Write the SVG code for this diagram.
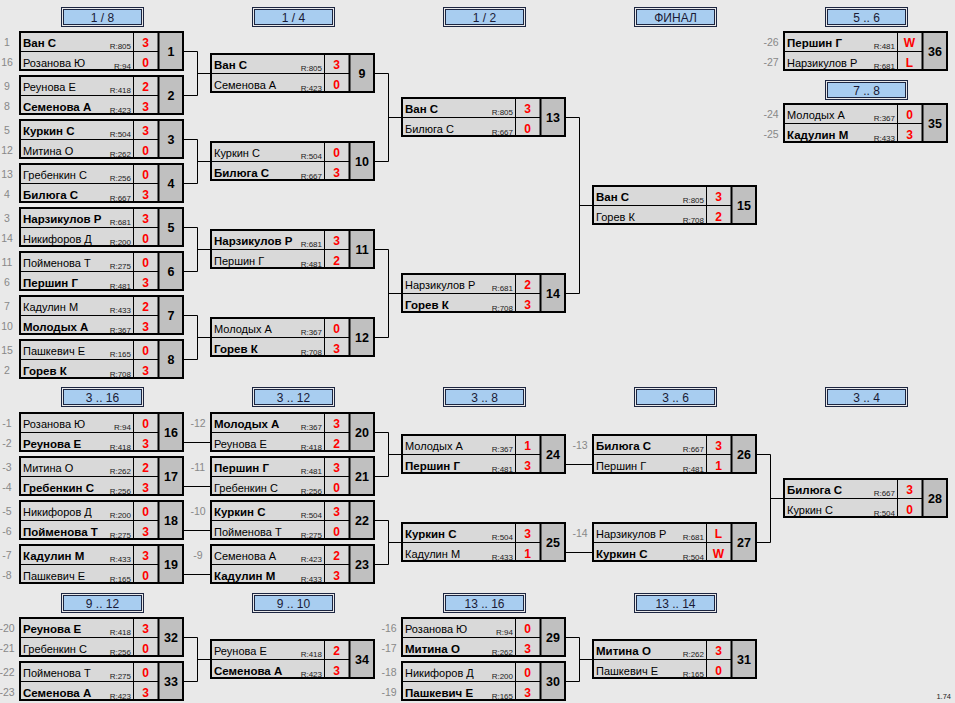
<svg xmlns="http://www.w3.org/2000/svg" xmlns:xlink="http://www.w3.org/1999/xlink" width="955" height="703" viewBox="0 0 955 703">
<style>
text{font-family:"Liberation Sans",Arial,sans-serif;fill:#000}
.n{font-size:11px}
.b{font-size:11.5px;font-weight:bold}
.r{font-size:8px;text-anchor:end;fill:#222}
.s{font-size:12px;font-weight:bold;fill:#f00;text-anchor:middle}
.m{font-size:12.5px;font-weight:bold;text-anchor:middle}
.sd{font-size:10.5px;fill:#888;text-anchor:middle}
.h{font-size:12px;text-anchor:middle;fill:#1a1a35}
.ln{fill:none;stroke:#000;stroke-width:1}
</style>
<defs>
<g id="f">
<rect x="1" y="1" width="138" height="38" fill="#d9d9d9"/>
<rect x="139" y="1" width="25" height="38" fill="#c0c0c0"/>
<line x1="1" y1="20.5" x2="139" y2="20.5" stroke="#000" stroke-width="1"/>
<line x1="114.5" y1="1" x2="114.5" y2="39" stroke="#000" stroke-width="1"/>
<line x1="139.5" y1="1" x2="139.5" y2="39" stroke="#000" stroke-width="2"/>
<rect x="1" y="1" width="163" height="38" fill="none" stroke="#000" stroke-width="2"/>
</g>
<g id="hd">
<rect x="0.5" y="0.5" width="82" height="19" fill="#e8e8e8" stroke="#1c2540" stroke-width="1"/>
<rect x="2.5" y="2.5" width="78" height="15" fill="#a8cdf0" stroke="#1c2540" stroke-width="1"/>
</g>
</defs>
<rect width="955" height="703" fill="#e9e9e9"/>

<g id="headers">
<g transform="translate(61,7)"><use href="#hd"/><text class="h" x="41.5" y="14.5">1 / 8</text></g>
<g transform="translate(252,7)"><use href="#hd"/><text class="h" x="41.5" y="14.5">1 / 4</text></g>
<g transform="translate(443,7)"><use href="#hd"/><text class="h" x="41.5" y="14.5">1 / 2</text></g>
<g transform="translate(634,7)"><use href="#hd"/><text class="h" x="41.5" y="14.5">ФИНАЛ</text></g>
<g transform="translate(825,7)"><use href="#hd"/><text class="h" x="41.5" y="14.5">5 .. 6</text></g>
<g transform="translate(825,80)"><use href="#hd"/><text class="h" x="41.5" y="14.5">7 .. 8</text></g>
<g transform="translate(61,387)"><use href="#hd"/><text class="h" x="41.5" y="14.5">3 .. 16</text></g>
<g transform="translate(252,387)"><use href="#hd"/><text class="h" x="41.5" y="14.5">3 .. 12</text></g>
<g transform="translate(443,387)"><use href="#hd"/><text class="h" x="41.5" y="14.5">3 .. 8</text></g>
<g transform="translate(634,387)"><use href="#hd"/><text class="h" x="41.5" y="14.5">3 .. 6</text></g>
<g transform="translate(825,387)"><use href="#hd"/><text class="h" x="41.5" y="14.5">3 .. 4</text></g>
<g transform="translate(61,593)"><use href="#hd"/><text class="h" x="41.5" y="14.5">9 .. 12</text></g>
<g transform="translate(252,593)"><use href="#hd"/><text class="h" x="41.5" y="14.5">9 .. 10</text></g>
<g transform="translate(443,593)"><use href="#hd"/><text class="h" x="41.5" y="14.5">13 .. 16</text></g>
<g transform="translate(634,593)"><use href="#hd"/><text class="h" x="41.5" y="14.5">13 .. 14</text></g>
</g>

<g id="connectors" class="ln">
<path d="M184 51.5H197.5V95.5H184M197.5 73.5H210"/>
<path d="M184 139.5H197.5V183.5H184M197.5 161.5H210"/>
<path d="M184 227.5H197.5V271.5H184M197.5 249.5H210"/>
<path d="M184 315.5H197.5V359.5H184M197.5 337.5H210"/>
<path d="M375 73.5H388.5V161.5H375M388.5 117.5H401"/>
<path d="M375 249.5H388.5V337.5H375M388.5 293.5H401"/>
<path d="M566 117.5H579.5V293.5H566M579.5 205.5H592"/>
<path d="M184 442.5H210M184 486.5H210M184 530.5H210M184 574.5H210"/>
<path d="M375 432.5H388.5V476.5H375M388.5 454.5H401"/>
<path d="M375 520.5H388.5V564.5H375M388.5 542.5H401"/>
<path d="M566 464.5H592M566 552.5H592"/>
<path d="M757 454.5H770.5V542.5H757M770.5 498.5H783"/>
<path d="M184 637.5H197.5V681.5H184M197.5 659.5H210"/>
<path d="M566 637.5H579.5V681.5H566M579.5 659.5H592"/>
</g>

<g id="m1" transform="translate(19,31)"><use href="#f"/>
<text class="sd" x="-12" y="15">1</text><text class="sd" x="-12" y="35">16</text>
<text class="b" x="4" y="15.5">Ван С</text><text class="r" x="112" y="17.5">R:805</text><text class="s" x="126.5" y="15.5">3</text>
<text class="n" x="4" y="35.5">Розанова Ю</text><text class="r" x="112" y="37.5">R:94</text><text class="s" x="126.5" y="35.5">0</text>
<text class="m" x="152" y="25">1</text></g>

<g id="m2" transform="translate(19,75)"><use href="#f"/>
<text class="sd" x="-12" y="15">9</text><text class="sd" x="-12" y="35">8</text>
<text class="n" x="4" y="15.5">Реунова Е</text><text class="r" x="112" y="17.5">R:418</text><text class="s" x="126.5" y="15.5">2</text>
<text class="b" x="4" y="35.5">Семенова А</text><text class="r" x="112" y="37.5">R:423</text><text class="s" x="126.5" y="35.5">3</text>
<text class="m" x="152" y="25">2</text></g>

<g id="m3" transform="translate(19,119)"><use href="#f"/>
<text class="sd" x="-12" y="15">5</text><text class="sd" x="-12" y="35">12</text>
<text class="b" x="4" y="15.5">Куркин С</text><text class="r" x="112" y="17.5">R:504</text><text class="s" x="126.5" y="15.5">3</text>
<text class="n" x="4" y="35.5">Митина О</text><text class="r" x="112" y="37.5">R:262</text><text class="s" x="126.5" y="35.5">0</text>
<text class="m" x="152" y="25">3</text></g>

<g id="m4" transform="translate(19,163)"><use href="#f"/>
<text class="sd" x="-12" y="15">13</text><text class="sd" x="-12" y="35">4</text>
<text class="n" x="4" y="15.5">Гребенкин С</text><text class="r" x="112" y="17.5">R:256</text><text class="s" x="126.5" y="15.5">0</text>
<text class="b" x="4" y="35.5">Билюга С</text><text class="r" x="112" y="37.5">R:667</text><text class="s" x="126.5" y="35.5">3</text>
<text class="m" x="152" y="25">4</text></g>

<g id="m5" transform="translate(19,207)"><use href="#f"/>
<text class="sd" x="-12" y="15">3</text><text class="sd" x="-12" y="35">14</text>
<text class="b" x="4" y="15.5">Нарзикулов Р</text><text class="r" x="112" y="17.5">R:681</text><text class="s" x="126.5" y="15.5">3</text>
<text class="n" x="4" y="35.5">Никифоров Д</text><text class="r" x="112" y="37.5">R:200</text><text class="s" x="126.5" y="35.5">0</text>
<text class="m" x="152" y="25">5</text></g>

<g id="m6" transform="translate(19,251)"><use href="#f"/>
<text class="sd" x="-12" y="15">11</text><text class="sd" x="-12" y="35">6</text>
<text class="n" x="4" y="15.5">Пойменова Т</text><text class="r" x="112" y="17.5">R:275</text><text class="s" x="126.5" y="15.5">0</text>
<text class="b" x="4" y="35.5">Першин Г</text><text class="r" x="112" y="37.5">R:481</text><text class="s" x="126.5" y="35.5">3</text>
<text class="m" x="152" y="25">6</text></g>

<g id="m7" transform="translate(19,295)"><use href="#f"/>
<text class="sd" x="-12" y="15">7</text><text class="sd" x="-12" y="35">10</text>
<text class="n" x="4" y="15.5">Кадулин М</text><text class="r" x="112" y="17.5">R:433</text><text class="s" x="126.5" y="15.5">2</text>
<text class="b" x="4" y="35.5">Молодых А</text><text class="r" x="112" y="37.5">R:367</text><text class="s" x="126.5" y="35.5">3</text>
<text class="m" x="152" y="25">7</text></g>

<g id="m8" transform="translate(19,339)"><use href="#f"/>
<text class="sd" x="-12" y="15">15</text><text class="sd" x="-12" y="35">2</text>
<text class="n" x="4" y="15.5">Пашкевич Е</text><text class="r" x="112" y="17.5">R:165</text><text class="s" x="126.5" y="15.5">0</text>
<text class="b" x="4" y="35.5">Горев К</text><text class="r" x="112" y="37.5">R:708</text><text class="s" x="126.5" y="35.5">3</text>
<text class="m" x="152" y="25">8</text></g>

<g id="m9" transform="translate(210,53)"><use href="#f"/>
<text class="b" x="4" y="15.5">Ван С</text><text class="r" x="112" y="17.5">R:805</text><text class="s" x="126.5" y="15.5">3</text>
<text class="n" x="4" y="35.5">Семенова А</text><text class="r" x="112" y="37.5">R:423</text><text class="s" x="126.5" y="35.5">0</text>
<text class="m" x="152" y="25">9</text></g>

<g id="m10" transform="translate(210,141)"><use href="#f"/>
<text class="n" x="4" y="15.5">Куркин С</text><text class="r" x="112" y="17.5">R:504</text><text class="s" x="126.5" y="15.5">0</text>
<text class="b" x="4" y="35.5">Билюга С</text><text class="r" x="112" y="37.5">R:667</text><text class="s" x="126.5" y="35.5">3</text>
<text class="m" x="152" y="25">10</text></g>

<g id="m11" transform="translate(210,229)"><use href="#f"/>
<text class="b" x="4" y="15.5">Нарзикулов Р</text><text class="r" x="112" y="17.5">R:681</text><text class="s" x="126.5" y="15.5">3</text>
<text class="n" x="4" y="35.5">Першин Г</text><text class="r" x="112" y="37.5">R:481</text><text class="s" x="126.5" y="35.5">2</text>
<text class="m" x="152" y="25">11</text></g>

<g id="m12" transform="translate(210,317)"><use href="#f"/>
<text class="n" x="4" y="15.5">Молодых А</text><text class="r" x="112" y="17.5">R:367</text><text class="s" x="126.5" y="15.5">0</text>
<text class="b" x="4" y="35.5">Горев К</text><text class="r" x="112" y="37.5">R:708</text><text class="s" x="126.5" y="35.5">3</text>
<text class="m" x="152" y="25">12</text></g>

<g id="m13" transform="translate(401,97)"><use href="#f"/>
<text class="b" x="4" y="15.5">Ван С</text><text class="r" x="112" y="17.5">R:805</text><text class="s" x="126.5" y="15.5">3</text>
<text class="n" x="4" y="35.5">Билюга С</text><text class="r" x="112" y="37.5">R:667</text><text class="s" x="126.5" y="35.5">0</text>
<text class="m" x="152" y="25">13</text></g>

<g id="m14" transform="translate(401,273)"><use href="#f"/>
<text class="n" x="4" y="15.5">Нарзикулов Р</text><text class="r" x="112" y="17.5">R:681</text><text class="s" x="126.5" y="15.5">2</text>
<text class="b" x="4" y="35.5">Горев К</text><text class="r" x="112" y="37.5">R:708</text><text class="s" x="126.5" y="35.5">3</text>
<text class="m" x="152" y="25">14</text></g>

<g id="m15" transform="translate(592,185)"><use href="#f"/>
<text class="b" x="4" y="15.5">Ван С</text><text class="r" x="112" y="17.5">R:805</text><text class="s" x="126.5" y="15.5">3</text>
<text class="n" x="4" y="35.5">Горев К</text><text class="r" x="112" y="37.5">R:708</text><text class="s" x="126.5" y="35.5">2</text>
<text class="m" x="152" y="25">15</text></g>

<g id="m36" transform="translate(783,31)"><use href="#f"/>
<text class="sd" x="-12" y="15">-26</text><text class="sd" x="-12" y="35">-27</text>
<text class="b" x="4" y="15.5">Першин Г</text><text class="r" x="112" y="17.5">R:481</text><text class="s" x="126.5" y="15.5">W</text>
<text class="n" x="4" y="35.5">Нарзикулов Р</text><text class="r" x="112" y="37.5">R:681</text><text class="s" x="126.5" y="35.5">L</text>
<text class="m" x="152" y="25">36</text></g>

<g id="m35" transform="translate(783,103)"><use href="#f"/>
<text class="sd" x="-12" y="15">-24</text><text class="sd" x="-12" y="35">-25</text>
<text class="n" x="4" y="15.5">Молодых А</text><text class="r" x="112" y="17.5">R:367</text><text class="s" x="126.5" y="15.5">0</text>
<text class="b" x="4" y="35.5">Кадулин М</text><text class="r" x="112" y="37.5">R:433</text><text class="s" x="126.5" y="35.5">3</text>
<text class="m" x="152" y="25">35</text></g>

<g id="m16" transform="translate(19,412)"><use href="#f"/>
<text class="sd" x="-12" y="15">-1</text><text class="sd" x="-12" y="35">-2</text>
<text class="n" x="4" y="15.5">Розанова Ю</text><text class="r" x="112" y="17.5">R:94</text><text class="s" x="126.5" y="15.5">0</text>
<text class="b" x="4" y="35.5">Реунова Е</text><text class="r" x="112" y="37.5">R:418</text><text class="s" x="126.5" y="35.5">3</text>
<text class="m" x="152" y="25">16</text></g>

<g id="m17" transform="translate(19,456)"><use href="#f"/>
<text class="sd" x="-12" y="15">-3</text><text class="sd" x="-12" y="35">-4</text>
<text class="n" x="4" y="15.5">Митина О</text><text class="r" x="112" y="17.5">R:262</text><text class="s" x="126.5" y="15.5">2</text>
<text class="b" x="4" y="35.5">Гребенкин С</text><text class="r" x="112" y="37.5">R:256</text><text class="s" x="126.5" y="35.5">3</text>
<text class="m" x="152" y="25">17</text></g>

<g id="m18" transform="translate(19,500)"><use href="#f"/>
<text class="sd" x="-12" y="15">-5</text><text class="sd" x="-12" y="35">-6</text>
<text class="n" x="4" y="15.5">Никифоров Д</text><text class="r" x="112" y="17.5">R:200</text><text class="s" x="126.5" y="15.5">0</text>
<text class="b" x="4" y="35.5">Пойменова Т</text><text class="r" x="112" y="37.5">R:275</text><text class="s" x="126.5" y="35.5">3</text>
<text class="m" x="152" y="25">18</text></g>

<g id="m19" transform="translate(19,544)"><use href="#f"/>
<text class="sd" x="-12" y="15">-7</text><text class="sd" x="-12" y="35">-8</text>
<text class="b" x="4" y="15.5">Кадулин М</text><text class="r" x="112" y="17.5">R:433</text><text class="s" x="126.5" y="15.5">3</text>
<text class="n" x="4" y="35.5">Пашкевич Е</text><text class="r" x="112" y="37.5">R:165</text><text class="s" x="126.5" y="35.5">0</text>
<text class="m" x="152" y="25">19</text></g>

<g id="m20" transform="translate(210,412)"><use href="#f"/>
<text class="sd" x="-12" y="15">-12</text>
<text class="b" x="4" y="15.5">Молодых А</text><text class="r" x="112" y="17.5">R:367</text><text class="s" x="126.5" y="15.5">3</text>
<text class="n" x="4" y="35.5">Реунова Е</text><text class="r" x="112" y="37.5">R:418</text><text class="s" x="126.5" y="35.5">2</text>
<text class="m" x="152" y="25">20</text></g>

<g id="m21" transform="translate(210,456)"><use href="#f"/>
<text class="sd" x="-12" y="15">-11</text>
<text class="b" x="4" y="15.5">Першин Г</text><text class="r" x="112" y="17.5">R:481</text><text class="s" x="126.5" y="15.5">3</text>
<text class="n" x="4" y="35.5">Гребенкин С</text><text class="r" x="112" y="37.5">R:256</text><text class="s" x="126.5" y="35.5">0</text>
<text class="m" x="152" y="25">21</text></g>

<g id="m22" transform="translate(210,500)"><use href="#f"/>
<text class="sd" x="-12" y="15">-10</text>
<text class="b" x="4" y="15.5">Куркин С</text><text class="r" x="112" y="17.5">R:504</text><text class="s" x="126.5" y="15.5">3</text>
<text class="n" x="4" y="35.5">Пойменова Т</text><text class="r" x="112" y="37.5">R:275</text><text class="s" x="126.5" y="35.5">0</text>
<text class="m" x="152" y="25">22</text></g>

<g id="m23" transform="translate(210,544)"><use href="#f"/>
<text class="sd" x="-12" y="15">-9</text>
<text class="n" x="4" y="15.5">Семенова А</text><text class="r" x="112" y="17.5">R:423</text><text class="s" x="126.5" y="15.5">2</text>
<text class="b" x="4" y="35.5">Кадулин М</text><text class="r" x="112" y="37.5">R:433</text><text class="s" x="126.5" y="35.5">3</text>
<text class="m" x="152" y="25">23</text></g>

<g id="m24" transform="translate(401,434)"><use href="#f"/>
<text class="n" x="4" y="15.5">Молодых А</text><text class="r" x="112" y="17.5">R:367</text><text class="s" x="126.5" y="15.5">1</text>
<text class="b" x="4" y="35.5">Першин Г</text><text class="r" x="112" y="37.5">R:481</text><text class="s" x="126.5" y="35.5">3</text>
<text class="m" x="152" y="25">24</text></g>

<g id="m25" transform="translate(401,522)"><use href="#f"/>
<text class="b" x="4" y="15.5">Куркин С</text><text class="r" x="112" y="17.5">R:504</text><text class="s" x="126.5" y="15.5">3</text>
<text class="n" x="4" y="35.5">Кадулин М</text><text class="r" x="112" y="37.5">R:433</text><text class="s" x="126.5" y="35.5">1</text>
<text class="m" x="152" y="25">25</text></g>

<g id="m26" transform="translate(592,434)"><use href="#f"/>
<text class="sd" x="-12" y="15">-13</text>
<text class="b" x="4" y="15.5">Билюга С</text><text class="r" x="112" y="17.5">R:667</text><text class="s" x="126.5" y="15.5">3</text>
<text class="n" x="4" y="35.5">Першин Г</text><text class="r" x="112" y="37.5">R:481</text><text class="s" x="126.5" y="35.5">1</text>
<text class="m" x="152" y="25">26</text></g>

<g id="m27" transform="translate(592,522)"><use href="#f"/>
<text class="sd" x="-12" y="15">-14</text>
<text class="n" x="4" y="15.5">Нарзикулов Р</text><text class="r" x="112" y="17.5">R:681</text><text class="s" x="126.5" y="15.5">L</text>
<text class="b" x="4" y="35.5">Куркин С</text><text class="r" x="112" y="37.5">R:504</text><text class="s" x="126.5" y="35.5">W</text>
<text class="m" x="152" y="25">27</text></g>

<g id="m28" transform="translate(783,478)"><use href="#f"/>
<text class="b" x="4" y="15.5">Билюга С</text><text class="r" x="112" y="17.5">R:667</text><text class="s" x="126.5" y="15.5">3</text>
<text class="n" x="4" y="35.5">Куркин С</text><text class="r" x="112" y="37.5">R:504</text><text class="s" x="126.5" y="35.5">0</text>
<text class="m" x="152" y="25">28</text></g>

<g id="m32" transform="translate(19,617)"><use href="#f"/>
<text class="sd" x="-12" y="15">-20</text><text class="sd" x="-12" y="35">-21</text>
<text class="b" x="4" y="15.5">Реунова Е</text><text class="r" x="112" y="17.5">R:418</text><text class="s" x="126.5" y="15.5">3</text>
<text class="n" x="4" y="35.5">Гребенкин С</text><text class="r" x="112" y="37.5">R:256</text><text class="s" x="126.5" y="35.5">0</text>
<text class="m" x="152" y="25">32</text></g>

<g id="m33" transform="translate(19,661)"><use href="#f"/>
<text class="sd" x="-12" y="15">-22</text><text class="sd" x="-12" y="35">-23</text>
<text class="n" x="4" y="15.5">Пойменова Т</text><text class="r" x="112" y="17.5">R:275</text><text class="s" x="126.5" y="15.5">0</text>
<text class="b" x="4" y="35.5">Семенова А</text><text class="r" x="112" y="37.5">R:423</text><text class="s" x="126.5" y="35.5">3</text>
<text class="m" x="152" y="25">33</text></g>

<g id="m34" transform="translate(210,639)"><use href="#f"/>
<text class="n" x="4" y="15.5">Реунова Е</text><text class="r" x="112" y="17.5">R:418</text><text class="s" x="126.5" y="15.5">2</text>
<text class="b" x="4" y="35.5">Семенова А</text><text class="r" x="112" y="37.5">R:423</text><text class="s" x="126.5" y="35.5">3</text>
<text class="m" x="152" y="25">34</text></g>

<g id="m29" transform="translate(401,617)"><use href="#f"/>
<text class="sd" x="-12" y="15">-16</text><text class="sd" x="-12" y="35">-17</text>
<text class="n" x="4" y="15.5">Розанова Ю</text><text class="r" x="112" y="17.5">R:94</text><text class="s" x="126.5" y="15.5">0</text>
<text class="b" x="4" y="35.5">Митина О</text><text class="r" x="112" y="37.5">R:262</text><text class="s" x="126.5" y="35.5">3</text>
<text class="m" x="152" y="25">29</text></g>

<g id="m30" transform="translate(401,661)"><use href="#f"/>
<text class="sd" x="-12" y="15">-18</text><text class="sd" x="-12" y="35">-19</text>
<text class="n" x="4" y="15.5">Никифоров Д</text><text class="r" x="112" y="17.5">R:200</text><text class="s" x="126.5" y="15.5">0</text>
<text class="b" x="4" y="35.5">Пашкевич Е</text><text class="r" x="112" y="37.5">R:165</text><text class="s" x="126.5" y="35.5">3</text>
<text class="m" x="152" y="25">30</text></g>

<g id="m31" transform="translate(592,639)"><use href="#f"/>
<text class="b" x="4" y="15.5">Митина О</text><text class="r" x="112" y="17.5">R:262</text><text class="s" x="126.5" y="15.5">3</text>
<text class="n" x="4" y="35.5">Пашкевич Е</text><text class="r" x="112" y="37.5">R:165</text><text class="s" x="126.5" y="35.5">0</text>
<text class="m" x="152" y="25">31</text></g>

<text x="951" y="699" style="font-size:7.5px;text-anchor:end;fill:#222">1.74</text>
</svg>
